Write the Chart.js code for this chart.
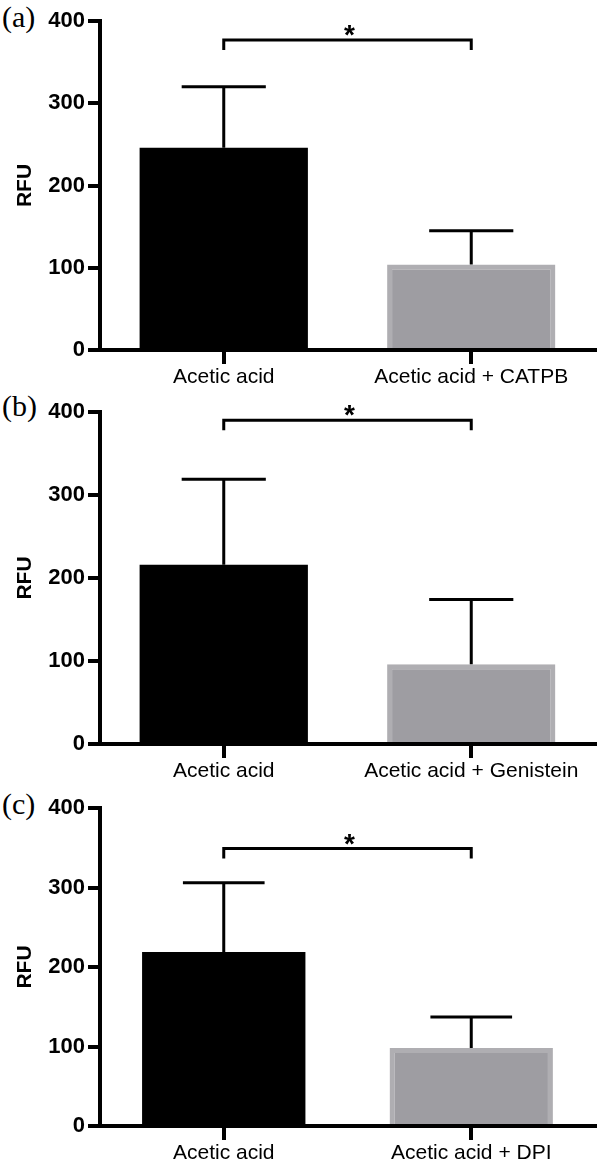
<!DOCTYPE html>
<html>
<head>
<meta charset="utf-8">
<script src="https://cdn.jsdelivr.net/npm/chart.js@4"></script>
<style>
  html, body { margin: 0; padding: 0; background: #fff; overflow: hidden; }
  body { width: 600px; height: 1163px; position: relative; }
  canvas { position: absolute; left: 0; }
  .panel-tag { position: absolute; left: 2px; font-family: "Liberation Serif", "Times New Roman", serif; font-size: 30px; line-height: 30px; color: #000; }
</style>
</head>
<body>
<div class="panel-tag" style="top:2px">(a)</div>
<div class="panel-tag" style="top:391px">(b)</div>
<div class="panel-tag" style="top:789px">(c)</div>
<canvas id="chartA" width="600" height="395" style="top:0px"></canvas>
<canvas id="chartB" width="600" height="400" style="top:391px"></canvas>
<canvas id="chartC" width="600" height="376" style="top:787px"></canvas>
<script>
'use strict';

// Data

const yTicks = [0, 100, 200, 300, 400];

const categoriesA = ['Acetic acid', 'Acetic acid + CATPB'];
const meansA = [246, 104];
const errorsA = [74, 41];
const bracketA = 377;

const categoriesB = ['Acetic acid', 'Acetic acid + Genistein'];
const meansB = [216, 96];
const errorsB = [103, 78];
const bracketB = 390;

const categoriesC = ['Acetic acid', 'Acetic acid + DPI'];
const meansC = [219, 98];
const errorsC = [87, 39];
const bracketC = 349;

Chart.defaults.font.family = '"Liberation Sans", Arial, sans-serif';
Chart.defaults.color = '#000';

// Error bars (upper only) and the significance bracket

const extrasPlugin = {
    id: 'extras',
    afterDatasetsDraw(chart, args, opts) {
        const ctx = chart.ctx;
        const yScale = chart.scales.y;
        const meta = chart.getDatasetMeta(0);
        ctx.save();
        ctx.strokeStyle = '#000';
        ctx.lineWidth = 3;
        ctx.lineCap = 'butt';

        for (let i = 0; i < meta.data.length; i++) {
            let bar = meta.data[i];
            let yBar = yScale.getPixelForValue(opts.means[i]);
            let yTop = yScale.getPixelForValue(opts.means[i] + opts.errors[i]);
            let half = bar.width / 4;
            ctx.beginPath();
            ctx.moveTo(bar.x, yBar);
            ctx.lineTo(bar.x, yTop);
            ctx.moveTo(bar.x - half, yTop);
            ctx.lineTo(bar.x + half, yTop);
            ctx.stroke();
        }

        let x0 = meta.data[0].x;
        let x1 = meta.data[1].x;
        let yB = yScale.getPixelForValue(opts.bracket);
        ctx.beginPath();
        ctx.moveTo(x0, yB + 10);
        ctx.lineTo(x0, yB);
        ctx.lineTo(x1, yB);
        ctx.lineTo(x1, yB + 10);
        ctx.stroke();

        ctx.fillStyle = '#000';
        ctx.font = 'bold 28px "Liberation Sans", Arial, sans-serif';
        ctx.textAlign = 'center';
        ctx.textBaseline = 'alphabetic';
        ctx.fillText('*', (x0 + x1) / 2 + 2, yB + 4);
        ctx.restore();
    }
};

function makePanel(canvasId, categories, means, errors, bracket, plotBottom, barPct) {
    let canvasEl = document.getElementById(canvasId);
    let H = canvasEl.height;

    return new Chart(canvasEl.getContext('2d'), {
        type: 'bar',
        data: {
            labels: categories,
            datasets: [{
                data: means,
                backgroundColor: ['#000000', '#9e9da2'],
                borderColor: ['#000000', '#afaeb2'],
                borderWidth: [0, 5],
                borderSkipped: 'bottom',
                categoryPercentage: 1,
                barPercentage: barPct
            }]
        },
        options: {
            responsive: false,
            animation: false,
            devicePixelRatio: 1,
            layout: {padding: {top: 21, right: 5, left: 0, bottom: 0}},
            plugins: {
                legend: {display: false},
                tooltip: {enabled: false},
                extras: {means: means, errors: errors, bracket: bracket}
            },
            scales: {
                x: {
                    z: 1,
                    grid: {
                        display: true,
                        drawOnChartArea: false,
                        offset: false,
                        tickLength: 14,
                        lineWidth: 4,
                        color: '#000'
                    },
                    border: {display: true, width: 4, color: '#000'},
                    ticks: {
                        color: '#000',
                        font: {size: 21},
                        padding: 1,
                        maxRotation: 0,
                        autoSkip: false
                    },
                    afterFit: function (scale) {
                        scale.height = H - plotBottom;
                    }
                },
                y: {
                    z: 1,
                    min: 0,
                    max: 400,
                    afterBuildTicks: function (scale) {
                        scale.ticks = yTicks.map(v => ({value: v}));
                    },
                    grid: {
                        display: true,
                        drawOnChartArea: false,
                        tickLength: 12,
                        lineWidth: 4,
                        color: '#000'
                    },
                    border: {display: true, width: 4, color: '#000'},
                    ticks: {
                        color: '#000',
                        font: {size: 22, weight: 'bold'},
                        padding: 3
                    },
                    title: {
                        display: true,
                        text: 'RFU',
                        color: '#000',
                        font: {size: 21, weight: 'bold'},
                        padding: {top: 13, bottom: 0}
                    },
                    afterFit: function (scale) {
                        scale.width = 100;
                    }
                }
            }
        },
        plugins: [extrasPlugin]
    });
}

makePanel('chartA', categoriesA, meansA, errorsA, bracketA, 350, 0.68);
makePanel('chartB', categoriesB, meansB, errorsB, bracketB, 353, 0.68);
makePanel('chartC', categoriesC, meansC, errorsC, bracketC, 339, 0.66);
</script>
</body>
</html>
